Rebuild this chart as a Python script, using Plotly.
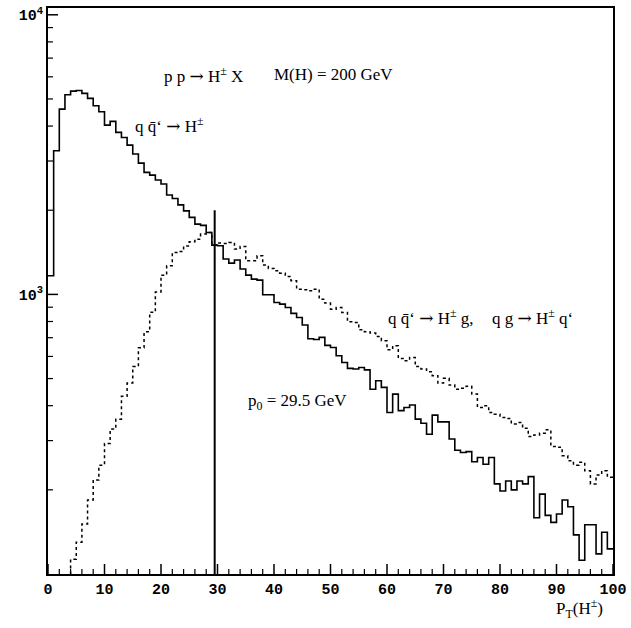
import math
import plotly.graph_objects as go

# ---------------- data ----------------
bin_edges = list(range(0, 101))  # P_T bins, 1 GeV wide, 0..100 GeV

# q qbar' -> H+-  (solid histogram)
solid = [1166, 3263, 4599, 5176, 5335, 5364, 5234, 5023, 4728, 4500,
         4032, 4156, 3796, 3642, 3420, 3176, 2949, 2731, 2671, 2564,
         2481, 2266, 2204, 2090, 1990, 1885, 1784, 1765, 1665, 1501,
         1493, 1338, 1294, 1327, 1232, 1172, 1134, 1125, 997, 997,
         936, 923, 898, 855, 827, 777, 694, 690, 702, 657,
         646, 603, 571, 544, 541, 548, 537, 458, 491, 465,
         378, 440, 384, 394, 402, 358, 346, 316, 370, 350,
         350, 304, 277, 272, 274, 252, 261, 247, 261, 210,
         198, 215, 200, 215, 210, 223, 159, 193, 162, 153,
         164, 184, 174, 138, 112, 150, 150, 118, 141, 123]

# q qbar' -> H+- g , q g -> H+- q'  (dashed histogram)
dashed = [None, None, None, 90, 113, 130, 151, 184, 217, 245,
          293, 330, 358, 432, 482, 552, 644, 735, 864, 1020,
          1172, 1266, 1413, 1425, 1490, 1543, 1576, 1643, 1665, 1501,
          1526, 1522, 1534, 1452, 1484, 1319, 1319, 1374, 1273, 1239,
          1215, 1191, 1160, 1119, 1044, 1039, 1030, 1044, 960, 931,
          885, 898, 862, 798, 794, 747, 735, 727, 707, 683,
          634, 655, 590, 579, 595, 552, 541, 529, 512, 482,
          501, 474, 458, 462, 469, 440, 394, 400, 378, 373,
          363, 360, 344, 348, 332, 310, 314, 319, 328, 286,
          284, 265, 254, 245, 251, 234, 210, 226, 234, 222]

p0 = 29.5            # GeV, vertical marker
p0_line_top = 2000   # top of the marker line
y_floor = 100        # bottom of the log axis

x_ticks = list(range(0, 101, 10))
x_minor = [v for v in range(0, 101, 2) if v % 10]
y_major = [1000, 10000]
y_major_text = ["10<sup>3</sup>", "10<sup>4</sup>"]
y_minor = [200, 300, 400, 500, 600, 700, 800, 900,
           2000, 3000, 4000, 5000, 6000, 7000, 8000, 9000]

# ---------------- figure ----------------
fig = go.Figure()

fig.add_trace(go.Scatter(
    x=bin_edges, y=solid + [solid[-1]], mode="lines", line_shape="hv",
    line=dict(color="black", width=1.6), showlegend=False, hoverinfo="skip"))

fig.add_trace(go.Scatter(
    x=bin_edges, y=dashed + [dashed[-1]], mode="lines", line_shape="hv",
    line=dict(color="black", width=1.5, dash="3px,3px"),
    showlegend=False, hoverinfo="skip", connectgaps=False))

fig.add_trace(go.Scatter(
    x=[p0, p0], y=[y_floor, p0_line_top], mode="lines",
    line=dict(color="black", width=2), showlegend=False, hoverinfo="skip"))

L, R, T, B = 48, 18, 8, 54
W, H = 631, 628
pw, ph = W - L - R, H - T - B
y_lo, y_hi = 2.0, 2.0 + ph / 279.6


def px(xp):
    return (xp - L) / pw


def py(yp):
    return (H - B - yp) / ph


serif = dict(family="Liberation Serif, Times New Roman, serif", size=17, color="black")
ARR = "<span style='font-family:DejaVu Serif'>\u2192</span>"

annots = [
    ("p p " + ARR + " H<sup>\u00b1</sup> X", 162, 75),
    ("M(H) = 200 GeV", 272, 75),
    ("q q\u0304\u2018 " + ARR + " H<sup>\u00b1</sup>", 133, 125),
    ("q q\u0304\u2018 " + ARR + " H<sup>\u00b1</sup> g,", 386, 317),
    ("q g " + ARR + " H<sup>\u00b1</sup> q\u2018", 490, 317),
    ("p<sub>0</sub> = 29.5 GeV", 246, 402),
    ("P<sub>T</sub>(H<sup>\u00b1</sup>)", 554, 608),
]
for txt, xp, yp in annots:
    fig.add_annotation(text=txt, x=px(xp), y=py(yp), xref="paper", yref="paper",
                       xanchor="left", yanchor="middle", showarrow=False, font=serif)

# inside tick marks (drawn as shapes so they are always visible)
MAJ, MIN = 10, 5
for v in x_ticks:
    fig.add_shape(type="line", xref="x", yref="paper", x0=v, x1=v, y0=0, y1=MAJ / ph,
                  line=dict(color="black", width=1.5))
for v in x_minor:
    fig.add_shape(type="line", xref="x", yref="paper", x0=v, x1=v, y0=0, y1=MIN / ph,
                  line=dict(color="black", width=1.2))
for v in y_major:
    yp = (math.log10(v) - y_lo) / (y_hi - y_lo)
    fig.add_shape(type="line", xref="paper", yref="paper", x0=0, x1=MAJ / pw, y0=yp, y1=yp,
                  line=dict(color="black", width=1.5))
for v in y_minor:
    yp = (math.log10(v) - y_lo) / (y_hi - y_lo)
    fig.add_shape(type="line", xref="paper", yref="paper", x0=0, x1=MIN / pw, y0=yp, y1=yp,
                  line=dict(color="black", width=1.2))

tickfont = dict(family="Liberation Mono, Courier New, monospace", size=15,
                color="black", weight="bold")

fig.update_layout(
    width=W, height=H,
    margin=dict(l=L, r=R, t=T, b=B, autoexpand=False),
    paper_bgcolor="white", plot_bgcolor="white",
    xaxis=dict(range=[0, 100], tickmode="array", tickvals=x_ticks,
               ticks="", showline=True, linecolor="black", linewidth=2, mirror=True,
               showgrid=False, zeroline=False, tickfont=tickfont,
               automargin=False),
    yaxis=dict(type="log", range=[y_lo, y_hi], tickmode="array",
               tickvals=y_major, ticktext=y_major_text, ticks="",
               showline=True, linecolor="black", linewidth=2, mirror=True,
               showgrid=False, zeroline=False, tickfont=tickfont,
               automargin=False),
)

fig.write_html("out.html", config={"displayModeBar": False},
               post_script="document.body.style.margin='0';"
                           "document.documentElement.style.margin='0';")
